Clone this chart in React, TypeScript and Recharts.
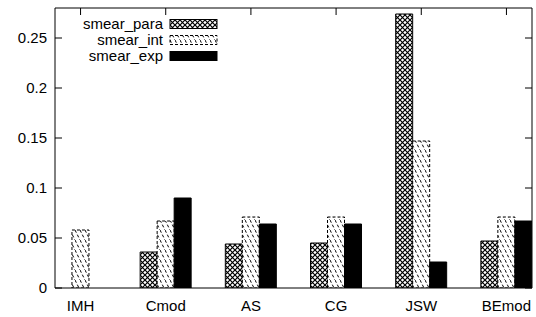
import React from 'react';
import { BarChart, Bar, XAxis, YAxis, Legend } from 'recharts';

const categories = ['IMH', 'Cmod', 'AS', 'CG', 'JSW', 'BEmod'];
const smearPara = [0, 0.036, 0.044, 0.045, 0.274, 0.047];
const smearInt = [0.058, 0.067, 0.071, 0.071, 0.147, 0.071];
const smearExp = [0, 0.09, 0.064, 0.064, 0.026, 0.067];
const seriesNames = ['smear_para', 'smear_int', 'smear_exp'];
const yTicks = [0, 0.05, 0.1, 0.15, 0.2, 0.25];
const xTicks = categories.map((_, i) => i);

const data = categories.map((c, i) => ({
  x: i,
  name: c,
  smear_para: smearPara[i],
  smear_int: smearInt[i],
  smear_exp: smearExp[i],
}));

const FONT = "'Liberation Sans', Arial, Helvetica, sans-serif";
const FS = 15;

const seriesStyles = [
  { fill: 'url(#crossHatch)', stroke: '#000', strokeDasharray: undefined as string | undefined },
  { fill: 'url(#diagHatch)', stroke: '#000', strokeDasharray: '3 2' },
  { fill: '#000', stroke: '#000', strokeDasharray: undefined as string | undefined },
];

const LeftTick = (props: any) => {
  const { x, y, payload } = props;
  return (
    <g>
      <text x={x} y={y} dy="0.36em" textAnchor="end" fontSize={FS} fontFamily={FONT} fill="#000">
        {String(payload.value)}
      </text>
      <line x1={x + 8} x2={x + 15} y1={y} y2={y} stroke="#000" strokeWidth={1} />
    </g>
  );
};

const RightTick = (props: any) => {
  const { x, y } = props;
  return <line x1={x - 7} x2={x} y1={y} y2={y} stroke="#000" strokeWidth={1} />;
};

const TopTick = (props: any) => {
  const { x, y } = props;
  return <line x1={x} x2={x} y1={y} y2={y + 7} stroke="#000" strokeWidth={1} />;
};

const BottomTick = (props: any) => {
  const { x, y, payload } = props;
  return (
    <text x={x} y={y} dy="0.71em" textAnchor="middle" fontSize={FS} fontFamily={FONT} fill="#000">
      {categories[payload.value]}
    </text>
  );
};

const renderLegend = (props: any) => {
  const payload = (props && props.payload) || [];
  return (
    <svg width={536} height={70} style={{ display: 'block' }}>
      {payload.map((p: any) => {
        const idx = seriesNames.indexOf(p.value);
        const cy = 24 + idx * 16;
        const st = seriesStyles[idx] || seriesStyles[0];
        return (
          <g key={p.value}>
            <text x={163} y={cy} dy="0.36em" textAnchor="end" fontSize={FS} fontFamily={FONT} fill="#000">
              {p.value}
            </text>
            <rect
              x={170}
              y={cy - 4.5}
              width={47}
              height={9}
              fill={st.fill}
              stroke={st.stroke}
              strokeDasharray={st.strokeDasharray}
              strokeWidth={1}
            />
          </g>
        );
      })}
    </svg>
  );
};

export default function App() {
  return (
    <div style={{ position: 'absolute', left: 0, top: 0, width: 536, height: 317, background: '#fff' }}>
      <BarChart
        width={536}
        height={317}
        data={data}
        margin={{ top: 0, right: 0, bottom: 0, left: 0 }}
        barGap={0}
        barCategoryGap={0}
      >
        <defs>
          <pattern id="crossHatch" patternUnits="userSpaceOnUse" width={5} height={5}>
            <rect width={5} height={5} fill="#fff" />
            <path d="M0,0 L5,5 M5,0 L0,5" stroke="#000" strokeWidth={1.2} />
          </pattern>
          <pattern id="diagHatch" patternUnits="userSpaceOnUse" width={5} height={10}>
            <rect width={5} height={10} fill="#fff" />
            <path d="M0,0 L5,10" stroke="#000" strokeWidth={1} strokeDasharray="3 2.2" />
          </pattern>
        </defs>
        <XAxis
          xAxisId="bottom"
          dataKey="x"
          type="number"
          domain={[-0.3, 5.3]}
          allowDataOverflow
          ticks={xTicks}
          interval={0}
          orientation="bottom"
          height={29}
          tickSize={0}
          tickMargin={12}
          tickLine={false}
          axisLine={{ stroke: '#000', strokeWidth: 1 }}
          tick={<BottomTick />}
        />
        <XAxis
          xAxisId="top"
          dataKey="x"
          type="number"
          domain={[-0.3, 5.3]}
          allowDataOverflow
          ticks={xTicks}
          interval={0}
          orientation="top"
          height={8}
          tickSize={0}
          tickMargin={0}
          tickLine={false}
          axisLine={{ stroke: '#000', strokeWidth: 1 }}
          tick={<TopTick />}
        />
        <YAxis
          yAxisId="left"
          type="number"
          domain={[0, 0.28]}
          allowDataOverflow
          ticks={yTicks}
          interval={0}
          orientation="left"
          width={55}
          tickSize={0}
          tickMargin={8}
          tickLine={false}
          axisLine={{ stroke: '#000', strokeWidth: 1 }}
          tick={<LeftTick />}
        />
        <YAxis
          yAxisId="right"
          type="number"
          domain={[0, 0.28]}
          allowDataOverflow
          ticks={yTicks}
          interval={0}
          orientation="right"
          width={4}
          tickSize={0}
          tickMargin={0}
          tickLine={false}
          axisLine={{ stroke: '#000', strokeWidth: 1 }}
          tick={<RightTick />}
        />
        <Legend
          layout="vertical"
          align="center"
          verticalAlign="middle"
          content={renderLegend}
          wrapperStyle={{ position: 'absolute', left: 0, top: 0, width: 536, height: 70 }}
        />
        {seriesNames.map((name, i) => (
          <Bar
            key={name}
            dataKey={name}
            name={name}
            xAxisId="bottom"
            yAxisId="left"
            barSize={17}
            fill={seriesStyles[i].fill}
            stroke={seriesStyles[i].stroke}
            strokeDasharray={seriesStyles[i].strokeDasharray}
            strokeWidth={1}
            isAnimationActive={false}
          />
        ))}
      </BarChart>
    </div>
  );
}
